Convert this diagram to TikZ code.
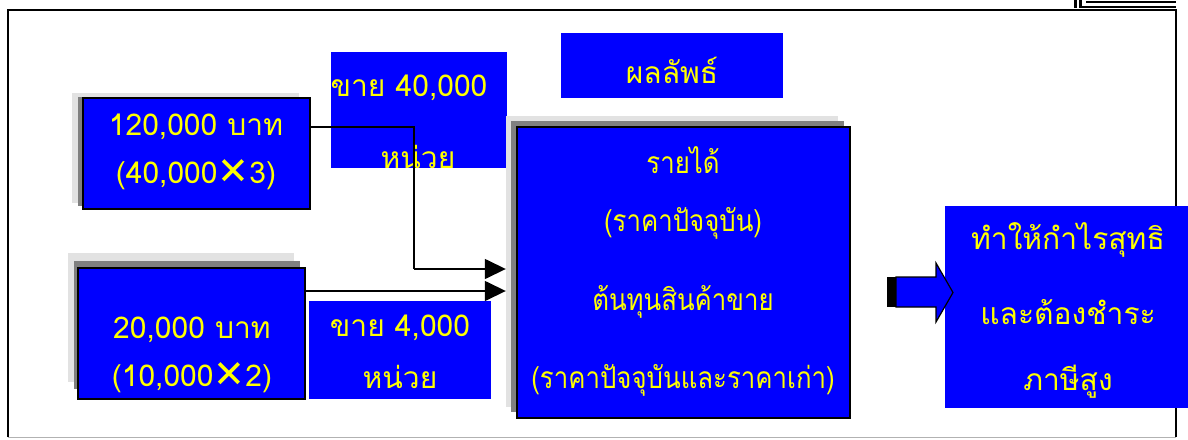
\documentclass[tikz,border=0pt]{standalone}
\usepackage{fontspec}
\newfontfamily\thaifont[Script=Thai]{Loma}
\newfontfamily\thainarrow[Script=Thai,FakeStretch=0.86]{Loma}
\newfontfamily\symfont{DejaVu Sans}
\usetikzlibrary{arrows.meta}
\definecolor{bblue}{RGB}{0,0,255}
\definecolor{tyellow}{RGB}{255,255,0}
\definecolor{sdark}{RGB}{128,128,128}
\definecolor{slight}{RGB}{226,226,226}
\newcommand{\mx}{{\symfont\fontsize{38}{38}\selectfont\raisebox{-1pt}{✕}}}
\begin{document}
\begin{tikzpicture}[x=1pt,y=-1pt,
  txt/.style={text=tyellow, font=\thaifont\fontsize{30}{36}\selectfont, inner sep=0pt},
  txtn/.style={txt, font=\thainarrow\fontsize{30}{36}\selectfont},
  bluebox/.style={fill=bblue, inner sep=0pt, outer sep=0pt},
  framed/.style={bluebox, draw=black, line width=2.5pt},
  shlight/.style={fill=slight, inner sep=0pt},
  shdark/.style={fill=sdark, inner sep=0pt},
  conn/.style={line width=1.5pt, -{Triangle[length=21pt,width=20pt]}},
  plain/.style={line width=1.5pt}]
\useasboundingbox (0,0) rectangle (1188,439);
% outer frame
\draw[gray!60, line width=1pt] (8,9) -- (1176,9);
\draw[gray!60, line width=1.2pt] (8,437.5) -- (1176,437.5);
\draw[black, line width=1.4pt] (8,437) |- (1176,10) -- (1176,437);
% top-right ornament
\draw[black, line width=2.2pt] (1080,7) -- (1176,7);
\draw[black, line width=1.2pt] (1086,2) -- (1176,2);
\fill[black] (1074,0) rectangle (1077,8);
\fill[black] (1079,0) rectangle (1082,8);

% box A
\node[shlight, minimum width=227pt, minimum height=110pt] (As1) at (185.5,148) {};
\node[shdark, minimum width=226pt, minimum height=109pt] (As2) at (191,151.5) {};
\node[framed, minimum width=227pt, minimum height=111pt] (A) at (196.5,153.5) {};
\node[txt] (A1) at (196,127) {120,000 บาท};
\node[txt] (A2) at (196,175) {(40,000\mx3)};

% box B
\node[shlight, minimum width=226pt, minimum height=129pt] (Bs1) at (181,317.5) {};
\node[shdark, minimum width=226pt, minimum height=128pt] (Bs2) at (187,325) {};
\node[framed, minimum width=227pt, minimum height=131pt] (B) at (191.5,333.5) {};
\node[txt] (B1) at (192,330) {20,000 บาท};
\node[txt] (B2) at (192,378) {(10,000\mx2)};

% sell 40,000
\node[bluebox, minimum width=176pt, minimum height=116pt] (S1) at (419,110) {};
\node[txt] (S1a) at (409,88) {ขาย 40,000};
\node[txt] (S1b) at (418,157) {หน่วย};

% sell 4,000
\node[bluebox, minimum width=182pt, minimum height=98pt] (S2) at (400,350) {};
\node[txt] (S2a) at (400,328) {ขาย 4,000};
\node[txt] (S2b) at (400,377) {หน่วย};

% result title
\node[bluebox, minimum width=222pt, minimum height=65pt] (T) at (672,65.5) {};
\node[txt] (T1) at (672,70) {ผลลัพธ์};

% main box
\node[shlight, minimum width=332pt, minimum height=291pt] (Ms1) at (672,261.5) {};
\node[shdark, minimum width=333pt, minimum height=291pt] (Ms2) at (677.5,266.5) {};
\node[framed, minimum width=333pt, minimum height=291pt] (M) at (683.5,272.5) {};
\node[txtn] (M1) at (683,160) {รายได้};
\node[txtn] (M2) at (683,223) {(ราคาปัจจุบัน)};
\node[txtn] (M3) at (683,302) {ต้นทุนสินค้าขาย};
\node[txtn] (M4) at (683,380) {(ราคาปัจจุบันและราคาเก่า)};

% right box
\node[bluebox, minimum width=243pt, minimum height=202pt] (R) at (1066.5,307) {};
\node[txt] (R1) at (1068,240) {ทำให้กำไรสุทธิ};
\node[txt] (R2) at (1068,312) {และต้องชำระ};
\node[txt] (R3) at (1068,382) {ภาษีสูง};

% connectors
\coordinate (yA) at (0,127);
\coordinate (yB) at (0,269);
\coordinate (yC) at (0,291);
\coordinate (xk) at (414,0);
\draw[plain] (A.east |- yA) -| (xk |- yB);
\draw[conn] (xk |- yB) -- (Ms1.west |- yB);
\draw[conn] (B.east |- yC) -- (Ms1.west |- yC);

% block arrow
\fill[black] (887,277) rectangle (896,307);
\draw[black, line width=1.2pt, fill=bblue] (896,277) -- (936,277) -- (936,263) -- (953,292.5) -- (936,322) -- (936,307) -- (896,307) -- cycle;
\end{tikzpicture}
\end{document}
